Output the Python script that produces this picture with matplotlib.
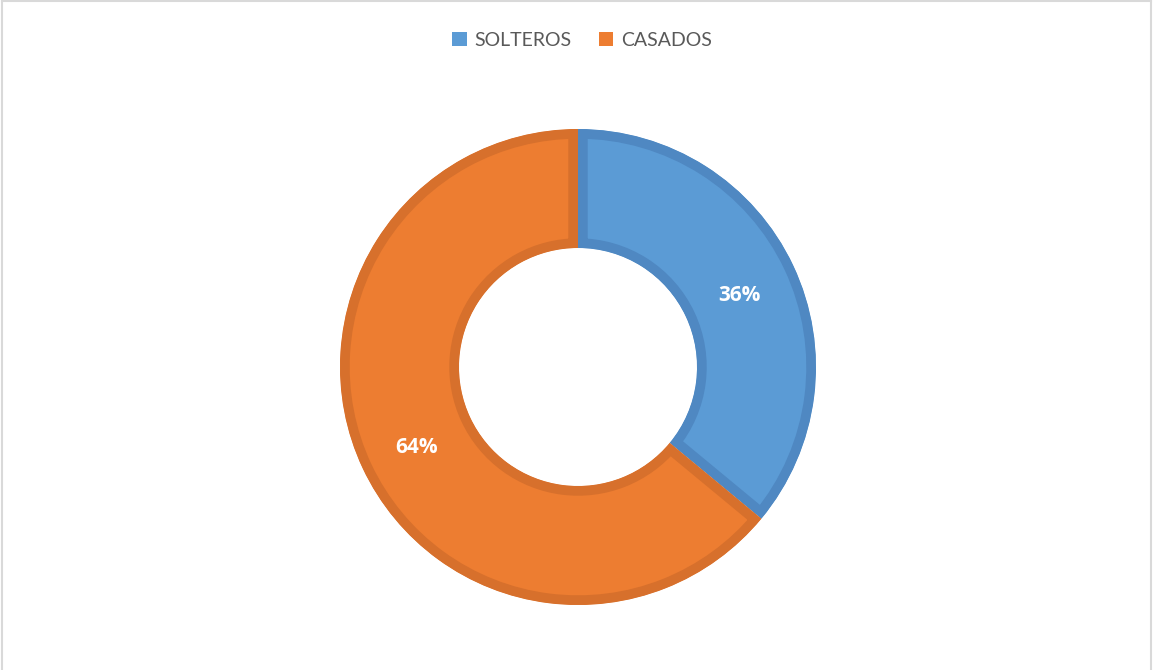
import matplotlib
matplotlib.use("Agg")
import matplotlib.pyplot as plt
from matplotlib.lines import Line2D
from matplotlib.patches import Rectangle

labels = ["SOLTEROS", "CASADOS"]
values = [36, 64]
fill_colors = ["#5B9BD5", "#ED7D31"]
edge_colors = ["#4F88C2", "#D7702C"]

plt.rcParams["font.family"] = ["Lato", "DejaVu Sans"]

W, H = 1153, 670
fig = plt.figure(figsize=(W / 100, H / 100), dpi=100)

# donut centre (578, 367) px, outer radius 238 px
cx, cy, r = 578, H - 367, 238
ax = fig.add_axes([(cx - r) / W, (cy - r) / H, 2 * r / W, 2 * r / H])
wedges, _, autotexts = ax.pie(
    values, colors=fill_colors, startangle=90, counterclock=False,
    radius=1.0, autopct="%1.0f%%", pctdistance=0.75,
    wedgeprops=dict(width=0.5, linewidth=0),
    textprops=dict(color="white", fontsize=15, fontweight="bold",
                   family=["Open Sans", "DejaVu Sans"]))
for t in autotexts:
    x, y = t.get_position()
    t.set_position((x, y - 0.02))

# darker border drawn inside each segment (clip the stroke to the wedge itself)
for w, ec in zip(wedges, edge_colors):
    w.set_edgecolor(ec)
    w.set_linewidth(14)
    w.set_clip_path(w)
    w.set_clip_on(True)

ax.set_xlim(-1, 1)
ax.set_ylim(-1, 1)
ax.axis("off")

# legend
handles = [Rectangle((0, 0), 1, 1, facecolor=c, edgecolor="none") for c in fill_colors]
fig.legend(handles, labels, loc="center", bbox_to_anchor=(582 / W, 1 - 40 / H),
           ncol=2, frameon=False, fontsize=14, labelcolor="#595959",
           handlelength=0.75, handleheight=0.75, handletextpad=0.4,
           columnspacing=1.4)

# light grey chart border
gray = "#D9D9D9"
fig.add_artist(Line2D([2 / W, 2 / W], [0, 1 - 1 / H], color=gray, lw=1.5))
fig.add_artist(Line2D([2 / W, 1 - 2 / W], [1 - 1 / H, 1 - 1 / H], color=gray, lw=1.5))
fig.add_artist(Line2D([1 - 2 / W, 1 - 2 / W], [0, 1 - 1 / H], color=gray, lw=1.5))

fig.savefig("out.png", dpi=100, facecolor="white")
